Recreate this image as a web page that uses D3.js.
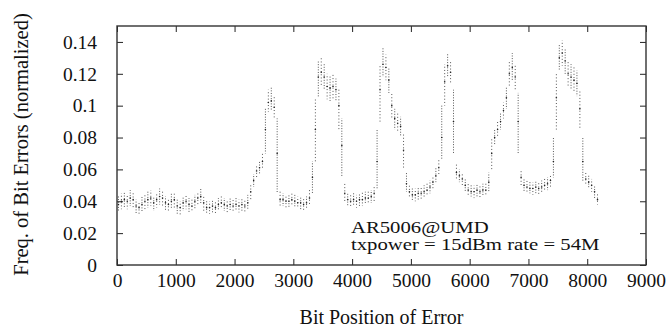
<!DOCTYPE html>
<html>
<head>
<meta charset="utf-8">
<script src="https://cdn.jsdelivr.net/npm/d3@7"></script>
<style>
  html, body { margin: 0; padding: 0; background: #fff; }
  svg { display: block; }
  .axis line { stroke: #222; }
</style>
</head>
<body>
<div id="chart"></div>
<script>
(function () {
  // bit positions are grouped in bins of 50; one entry per bin
  const binSize = 50;
  const errMin = [
    0.034, 0.035, 0.036, 0.035, 0.037, 0.036, 0.032, 0.032, 0.033, 0.035,
    0.036, 0.037, 0.034, 0.036, 0.038, 0.037, 0.034, 0.033, 0.035, 0.036,
    0.032, 0.031, 0.034, 0.035, 0.033, 0.033, 0.035, 0.037, 0.038, 0.034,
    0.032, 0.032, 0.033, 0.032, 0.034, 0.035, 0.034, 0.033, 0.034, 0.033,
    0.034, 0.033, 0.034, 0.033, 0.035, 0.041, 0.049, 0.055, 0.057, 0.060,
    0.070, 0.096, 0.097, 0.092, 0.045, 0.036, 0.037, 0.036, 0.036, 0.037,
    0.036, 0.036, 0.035, 0.034, 0.035, 0.037, 0.045, 0.065, 0.105, 0.112,
    0.110, 0.104, 0.103, 0.104, 0.103, 0.085, 0.055, 0.040, 0.037, 0.036,
    0.037, 0.036, 0.037, 0.037, 0.038, 0.038, 0.039, 0.040, 0.048, 0.090,
    0.118, 0.116, 0.108, 0.092, 0.085, 0.083, 0.081, 0.060, 0.046, 0.042,
    0.040, 0.040, 0.041, 0.041, 0.042, 0.043, 0.045, 0.048, 0.052, 0.056,
    0.066, 0.100, 0.118, 0.114, 0.070, 0.053, 0.052, 0.050, 0.046, 0.043,
    0.043, 0.042, 0.043, 0.042, 0.043, 0.043, 0.046, 0.060, 0.075, 0.080,
    0.085, 0.092, 0.098, 0.112, 0.116, 0.110, 0.070, 0.050, 0.046, 0.045,
    0.045, 0.044, 0.045, 0.044, 0.045, 0.046, 0.047, 0.049, 0.055, 0.085,
    0.122, 0.125, 0.120, 0.112, 0.110, 0.108, 0.106, 0.085, 0.052, 0.050,
    0.048, 0.046, 0.042, 0.038
  ];
  const errMean = [
    0.038, 0.040, 0.041, 0.040, 0.042, 0.041, 0.037, 0.036, 0.038, 0.040,
    0.041, 0.042, 0.039, 0.041, 0.043, 0.042, 0.039, 0.038, 0.040, 0.041,
    0.037, 0.036, 0.039, 0.040, 0.038, 0.037, 0.040, 0.042, 0.043, 0.039,
    0.036, 0.036, 0.037, 0.036, 0.038, 0.039, 0.038, 0.037, 0.038, 0.037,
    0.038, 0.037, 0.038, 0.037, 0.039, 0.046, 0.053, 0.059, 0.061, 0.065,
    0.085, 0.102, 0.103, 0.099, 0.070, 0.041, 0.041, 0.040, 0.040, 0.041,
    0.040, 0.039, 0.039, 0.038, 0.039, 0.042, 0.055, 0.085, 0.118, 0.121,
    0.118, 0.112, 0.111, 0.112, 0.110, 0.100, 0.075, 0.045, 0.041, 0.040,
    0.041, 0.040, 0.041, 0.041, 0.042, 0.042, 0.043, 0.045, 0.065, 0.110,
    0.126, 0.124, 0.116, 0.100, 0.092, 0.089, 0.087, 0.072, 0.051, 0.046,
    0.044, 0.044, 0.045, 0.045, 0.046, 0.047, 0.049, 0.052, 0.056, 0.061,
    0.080, 0.115, 0.125, 0.121, 0.090, 0.058, 0.056, 0.054, 0.050, 0.047,
    0.046, 0.046, 0.047, 0.046, 0.047, 0.047, 0.052, 0.070, 0.080, 0.085,
    0.090, 0.097, 0.105, 0.120, 0.124, 0.118, 0.090, 0.055, 0.050, 0.049,
    0.048, 0.048, 0.049, 0.048, 0.049, 0.050, 0.051, 0.053, 0.065, 0.105,
    0.130, 0.133, 0.128, 0.120, 0.118, 0.116, 0.114, 0.098, 0.065, 0.054,
    0.052, 0.050, 0.046, 0.041
  ];
  const errMax = [
    0.043, 0.045, 0.046, 0.044, 0.047, 0.045, 0.041, 0.040, 0.043, 0.044,
    0.046, 0.047, 0.043, 0.045, 0.048, 0.046, 0.043, 0.042, 0.045, 0.045,
    0.041, 0.040, 0.043, 0.044, 0.042, 0.041, 0.044, 0.046, 0.048, 0.043,
    0.040, 0.040, 0.041, 0.040, 0.042, 0.043, 0.042, 0.041, 0.042, 0.041,
    0.042, 0.041, 0.042, 0.041, 0.044, 0.050, 0.057, 0.063, 0.065, 0.070,
    0.098, 0.110, 0.112, 0.106, 0.092, 0.046, 0.045, 0.044, 0.044, 0.045,
    0.044, 0.043, 0.043, 0.042, 0.043, 0.047, 0.065, 0.105, 0.128, 0.130,
    0.126, 0.120, 0.119, 0.120, 0.117, 0.110, 0.092, 0.052, 0.045, 0.044,
    0.045, 0.044, 0.045, 0.046, 0.046, 0.046, 0.047, 0.050, 0.085, 0.125,
    0.136, 0.132, 0.124, 0.108, 0.098, 0.095, 0.093, 0.083, 0.058, 0.050,
    0.048, 0.048, 0.049, 0.049, 0.050, 0.051, 0.053, 0.056, 0.061, 0.066,
    0.100, 0.126, 0.133, 0.128, 0.110, 0.063, 0.060, 0.058, 0.054, 0.051,
    0.050, 0.050, 0.051, 0.050, 0.051, 0.051, 0.058, 0.080, 0.085, 0.090,
    0.095, 0.102, 0.112, 0.128, 0.133, 0.125, 0.108, 0.060, 0.054, 0.053,
    0.052, 0.052, 0.053, 0.052, 0.053, 0.054, 0.055, 0.057, 0.080, 0.120,
    0.138, 0.141, 0.136, 0.128, 0.126, 0.124, 0.122, 0.110, 0.080, 0.058,
    0.056, 0.054, 0.050, 0.045
  ];
  const xTicks = [0, 1000, 2000, 3000, 4000, 5000, 6000, 7000, 8000, 9000];
  const yTicks = [0, 0.02, 0.04, 0.06, 0.08, 0.1, 0.12, 0.14];
  const noteLines = ["AR5006@UMD", "txpower = 15dBm rate = 54M"];

  const serifFont = "'Liberation Serif', 'Times New Roman', serif";
  const width = 671, height = 327;
  const margin = { top: 26, right: 25, bottom: 62, left: 117 };
  const innerWidth = width - margin.left - margin.right;
  const innerHeight = height - margin.top - margin.bottom;

  const bins = errMean.map((m, i) => ({
    bit: i * binSize + binSize / 2,
    lo: errMin[i],
    mean: m,
    hi: errMax[i],
    i
  }));

  const svg = d3.select("#chart")
    .append("svg")
    .attr("width", width)
    .attr("height", height)
    .style("font-family", serifFont);

  const g = svg.append("g")
    .attr("transform", `translate(${margin.left},${margin.top})`);

  const x = d3.scaleLinear().domain([0, 9000]).range([0, innerWidth]);
  const y = d3.scaleLinear().domain([0, 0.15]).range([innerHeight, 0]);

  const yFmt = d => d === 0 ? "0" : String(+d.toFixed(2));

  // scatter of bit errors: each bin drawn as a dotted spread plus its mean
  g.selectAll(".spread")
    .data(bins)
    .join("line")
    .attr("class", "spread")
    .attr("x1", d => x(d.bit))
    .attr("x2", d => x(d.bit))
    .attr("y1", d => y(d.hi))
    .attr("y2", d => y(d.lo))
    .attr("stroke", "#555")
    .attr("stroke-width", 1)
    .attr("stroke-dasharray", d => d.i % 2 ? "1,2.2" : "1,1.6")
    .attr("stroke-dashoffset", d => (d.i % 5) * 0.7);

  g.selectAll(".mean")
    .data(bins)
    .join("circle")
    .attr("class", "mean")
    .attr("cx", d => x(d.bit))
    .attr("cy", d => y(d.mean))
    .attr("r", 0.8)
    .attr("fill", "#222");

  // axes with inward ticks on all four sides
  const serif = a => a.selectAll("text")
    .style("font-family", serifFont)
    .style("font-size", "19.5px")
    .attr("fill", "#111");

  g.append("g")
    .attr("class", "axis")
    .attr("transform", `translate(0,${innerHeight})`)
    .call(d3.axisBottom(x).tickValues(xTicks).tickSize(-6).tickPadding(8).tickFormat(d3.format("d")))
    .call(serif)
    .call(a => a.select(".domain").remove());

  g.append("g")
    .attr("class", "axis")
    .call(d3.axisTop(x).tickValues(xTicks).tickSize(-6).tickFormat(""))
    .call(a => a.select(".domain").remove());

  g.append("g")
    .attr("class", "axis")
    .call(d3.axisLeft(y).tickValues(yTicks).tickSize(-6).tickPadding(20).tickFormat(yFmt))
    .call(serif)
    .call(a => a.select(".domain").remove());

  g.append("g")
    .attr("class", "axis")
    .attr("transform", `translate(${innerWidth},0)`)
    .call(d3.axisRight(y).tickValues(yTicks).tickSize(-6).tickFormat(""))
    .call(a => a.select(".domain").remove());

  g.append("rect")
    .attr("width", innerWidth)
    .attr("height", innerHeight)
    .attr("fill", "none")
    .attr("stroke", "#333")
    .attr("stroke-width", 1.4);

  g.append("text")
    .attr("x", innerWidth / 2)
    .attr("y", innerHeight + 59)
    .attr("text-anchor", "middle")
    .attr("font-size", 20)
    .attr("fill", "#111")
    .text("Bit Position of Error");

  g.append("text")
    .attr("transform", "rotate(-90)")
    .attr("x", -innerHeight / 2 + 1)
    .attr("y", -89)
    .attr("text-anchor", "middle")
    .attr("font-size", 20.5)
    .attr("fill", "#111")
    .text("Freq. of Bit Errors (normalized)");

  // annotation in the lower right of the plot, slightly wide lettering as in the figure
  const noteX = x(3980), noteY = y(0.02);
  g.append("g")
    .attr("transform", `translate(${noteX},${noteY}) scale(1.22,1)`)
    .selectAll("text")
    .data(noteLines)
    .join("text")
    .attr("x", 0)
    .attr("y", (d, i) => i * 17)
    .attr("font-size", 17)
    .attr("fill", "#111")
    .text(d => d);
})();
</script>
</body>
</html>
